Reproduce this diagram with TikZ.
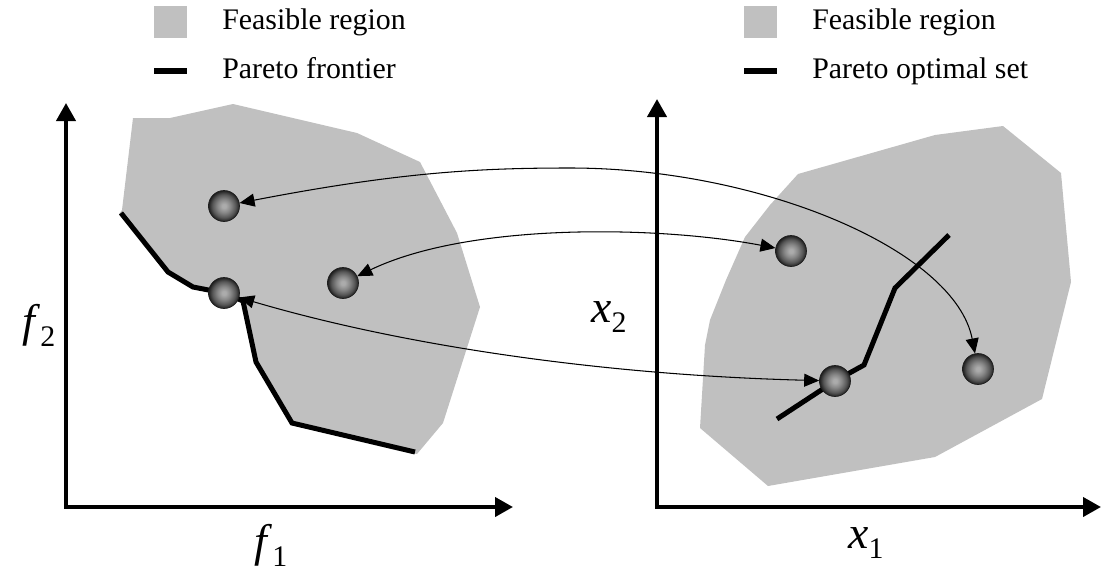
\documentclass[tikz,border=0pt]{standalone}
\usepackage{fontspec}
\setmainfont{Liberation Serif}
\usetikzlibrary{arrows.meta}
\definecolor{regiongray}{HTML}{C0C0C0}
\definecolor{sphc}{HTML}{ACACAC}
\definecolor{sphb}{HTML}{868686}
\definecolor{spha}{HTML}{555555}
\definecolor{sphd}{HTML}{1E1E1E}
\pgfdeclareradialshading{sphereshade}{\pgfpoint{0bp}{0bp}}{color(0bp)=(sphc); color(3bp)=(sphc); color(11bp)=(sphb); color(19bp)=(spha); color(25bp)=(sphd); color(50bp)=(sphd)}
\newcommand{\axlab}[2]{\fontsize{26}{26}\selectfont\textit{#1}\raisebox{-0.24em}{\fontsize{17}{17}\selectfont #2}}
\tikzset{
  region/.style={fill=regiongray, draw=none},
  axisline/.style={line width=0.08cm, {Triangle[length=0.36cm,width=0.38cm]}-{Triangle[length=0.36cm,width=0.38cm]}},
  paretoline/.style={line width=0.1cm, line join=miter},
  sphere/.style={circle, minimum size=0.62cm, inner sep=0pt, shading=sphereshade, draw=sphd, line width=0.4pt},
  maparrow/.style={line width=0.6pt, {Triangle[length=0.3cm,width=0.26cm]}-{Triangle[length=0.3cm,width=0.26cm]}},
  legtext/.style={anchor=base west, inner sep=0pt, font=\fontsize{17}{17}\selectfont},
  axlabel/.style={anchor=base west, inner sep=0pt},
  legbox/.style={fill=regiongray, draw=none, minimum size=0.66cm, inner sep=0pt},
  legbar/.style={fill=black, draw=none, minimum width=0.66cm, minimum height=0.12cm, inner sep=0pt}
}
\begin{document}
\begin{tikzpicture}[x=0.02cm, y=-0.02cm]
\useasboundingbox (0,0) rectangle (1101,575);

% feasible regions
\fill[region] (133,118) -- (170,118) -- (233,104) -- (357,133) -- (420,162) -- (457,233) -- (480,307) -- (443,423) -- (417,454) -- (292,425) -- (255,363) -- (242,302) -- (224,295) -- (192,289) -- (167,274) -- (119,214) -- (122,210) -- cycle;
\fill[region] (798,174) -- (935,135) -- (1003,126) -- (1061,173) -- (1071,282) -- (1042,399) -- (935,457) -- (768,486) -- (700,428) -- (705,345) -- (710,320) -- (726,280) -- (745,237) -- (770,205) -- cycle;

% axes
\coordinate (ly) at (66,103);
\coordinate (lx) at (513,507);
\coordinate (ry) at (657,99);
\coordinate (rx) at (1101,507);
\draw[axisline] (ly) |- (lx);
\draw[axisline] (ry) |- (rx);

% Pareto frontier / optimal set
\draw[paretoline] (121,213) -- (168,272) -- (193,287) -- (224,293) -- (243,301) -- (256,362) -- (292,423) -- (415,452);
\draw[paretoline] (777,419) -- (835,381) -- (864,365) -- (895,288) -- (949,235);

% solutions
\node[sphere] (s1) at (224,206) {};
\node[sphere] (s2) at (224,293) {};
\node[sphere] (s3) at (343,283) {};
\node[sphere] (s4) at (791,251) {};
\node[sphere] (s5) at (835,381) {};
\node[sphere] (s6) at (978,369) {};

% mappings
\coordinate (m1) at (570,168);
\draw[maparrow] (s1) .. controls (400,172) and (480,168) .. (m1) .. controls (760,168) and (955,250) .. (s6);
\draw[maparrow] (s3) .. controls (470,222) and (660,226) .. (s4);
\draw[maparrow] (s2) .. controls (400,345) and (600,375) .. (s5);

% legends
\node[legbox] (lb1) at (170,22) {};
\node[legbar] (lb2) at (170,71) {};
\node[legtext] (lt1) at (222,29) {Feasible region};
\node[legtext] (lt2) at (222,78) {Pareto frontier};
\node[legbox] (rb1) at (760,22) {};
\node[legbar] (rb2) at (760,71) {};
\node[legtext] (rt1) at (812,29) {Feasible region};
\node[legtext] (rt2) at (812,78) {Pareto optimal set};

% axis labels
\node[axlabel] (f2) at (22,336) {\axlab{f}{2}};
\node[axlabel] (f1) at (254,556) {\axlab{f}{1}};
\node[axlabel] (x2) at (591,322) {\axlab{x}{2}};
\node[axlabel] (x1) at (848,548) {\axlab{x}{1}};
\end{tikzpicture}
\end{document}
